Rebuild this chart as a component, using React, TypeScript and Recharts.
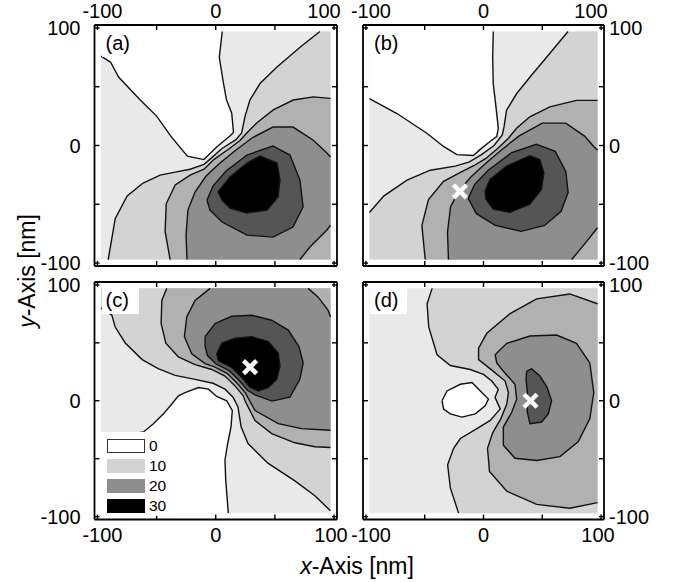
import React from "react";
import { ScatterChart, Scatter, XAxis, YAxis } from "recharts";

type Pt = [number, number];

const FONT = "'Liberation Sans', Arial, Helvetica, sans-serif";

// axis ticks shared by all panels (nm); only some of them carry a label
const ticks = [-100, -50, 0, 50, 100];
const labelledTicks = [-100, 0, 100];
const domain: [number, number] = [-102.5, 102.5];

// extent of the computed field (nm)
const fieldBox: Pt[] = [[-97, -97], [97, -97], [97, 97], [-97, 97]];

// legend
const legendLevels = ["0", "10", "20", "30"];

// grey level of each band (0-5, 5-10, ... 30+)
const shade = {
  l0: "#ffffff",
  l5: "#e9e9e9",
  l10: "#d3d3d3",
  l15: "#b1b1b1",
  l20: "#8e8e8e",
  l25: "#555555",
  l30: "#000000",
};

// ---- panel (a) contours
const aC5: Pt[] = [[-97, 76], [-89, 71], [-82, 58], [-64, 39], [-50, 25], [-38, 8], [-24, -9], [-10, -12], [1, -1], [12, 8], [15, 11], [13.5, 27.5], [9, 39], [6.5, 53], [3, 75], [5.5, 97]];
const aC5Edge: Pt[] = [[-97, 97]];
const aC10: Pt[] = [[88, 97], [71, 83.4], [51.5, 66.6], [37.4, 52.7], [28.9, 38.7], [24.7, 24.6], [21.9, 10.7], [17.1, 5], [5.3, -2.5], [-3.1, -10.1], [-9.9, -16], [-21.7, -20.2], [-34.3, -22.7], [-47, -25.2], [-61.4, -31.9], [-74.9, -42.9], [-85, -62.2], [-90.9, -97]];
const aC10Edge: Pt[] = [[97, -97], [97, 97]];
const aC15: Pt[] = [[97, 40.1], [82.4, 41.4], [65.5, 38.7], [48.6, 30.3], [34.6, 19.1], [26.2, 10.7], [20.5, 4.2], [10.4, -3.4], [-1.4, -11.8], [-9.9, -20.2], [-21.7, -25.2], [-34.3, -33.6], [-41.9, -49.6], [-42.8, -73.1], [-38.6, -97]];
const aC15Edge: Pt[] = [[97, -97]];
const aC20: Pt[] = [[-24.3, -97], [-25.1, -76.2], [-23.5, -54.9], [-17.5, -39.6], [-8.2, -26], [3.6, -14.9], [17.1, -3.8], [30.6, 6.4], [48.4, 15.7], [65.3, 15.7], [82.2, 4.7], [94, -6.4], [97, -9.8]];
const aC20b: Pt[] = [[97, -67.7], [94, -71.9], [79.6, -86.4], [71.2, -97]];
const aC25: Pt[] = [[-7.4, -46.4], [-2.3, -34.5], [8.7, -21.7], [26.4, -8.1], [48.4, -0.4], [62.7, -8.1], [71.2, -29.4], [73.8, -52.3], [65.3, -69.4], [48.4, -77.9], [26.4, -76.2], [5.3, -65.1], [-4.9, -54.9]];
const aC30: Pt[] = [[1.9, -39.6], [12, -26.8], [26.4, -14.9], [37.4, -8.9], [51.8, -14.9], [54.3, -29.4], [52.6, -43.8], [43.3, -54.9], [26.4, -57.4], [12, -53.2], [5.3, -46.4]];

// ---- panel (b) contours
const bC5: Pt[] = [[-97, 39.8], [-73.6, 27.2], [-48.2, 10.4], [-34, -0.8], [-22.7, -7.8], [-8.6, -8.5], [-3, -3.5], [5.5, 3.4], [11.2, 7.6], [12.6, 14.6], [10.6, 32.8], [8.3, 52.4], [7.8, 74.8], [8.3, 97]];
const bC5Edge: Pt[] = [[-97, 97]];
const bC10: Pt[] = [[71.9, 97], [53.5, 74.8], [39.4, 58], [28.1, 44], [19.6, 30], [17.5, 16], [16, 9], [9, 0], [-2, -8], [-12, -14], [-24, -17.5], [-45.3, -21], [-65.1, -29.5], [-84.9, -43], [-97, -57]];
const bC10Edge: Pt[] = [[-97, -97], [97, -97], [97, 97]];
const bC15: Pt[] = [[97, 38.4], [79, 38.4], [56.4, 32.8], [39.4, 24.4], [28.1, 14.6], [21, 6], [12, -2.5], [2, -11], [-8, -17], [-20, -23], [-34, -30.5], [-46.8, -46], [-52.4, -68], [-49.6, -97]];
const bC15Edge: Pt[] = [[97, -97]];
const bC20: Pt[] = [[-29.8, -97], [-30.6, -73.7], [-28, -52], [-21, -39], [-11, -27], [1, -16], [15, -4], [30, 8], [50, 19], [70, 19], [86, 8], [94, -1], [97, -4]];
const bC20b: Pt[] = [[97, -70], [85, -85], [75, -97]];
const bC25: Pt[] = [[-13, -45], [-7.5, -33], [4, -21], [24, -6], [45, 1], [61, -5], [70, -22], [72, -40], [66, -56], [52, -68], [32, -73], [10, -68], [-6, -58]];
const bC30: Pt[] = [[1.3, -38.7], [5.5, -28.9], [19.6, -17.6], [39.4, -8.7], [47.9, -12], [51.3, -23.2], [49.3, -37.3], [39.4, -49.9], [22.5, -56.9], [8.3, -54.1], [2.1, -45.7]];
const bMark: Pt[] = [[-20, -39]];

// ---- panel (c) contours
const cC5: Pt[] = [[-97, -33], [-61.1, -26.9], [-52.7, -19.8], [-44.2, -11.3], [-37.1, -2.8], [-31.6, 4.3], [-25.9, 7.1], [-14.7, 11.4], [-6.2, 10], [0.8, 3.7], [9.3, 0], [14, -8.5], [12.9, -22.6], [10.1, -36.9], [7.8, -51.1], [8.4, -68.1], [10.6, -97]];
const cC5Edge: Pt[] = [[-97, -97]];
const cC10: Pt[] = [[-97, 80], [-87.8, 73.8], [-85, 63.6], [-76.5, 49.9], [-62.2, 35.5], [-48.7, 27.8], [-34.3, 21.9], [-17.5, 18.5], [-2.3, 15.1], [7.8, 10], [14.6, 3.1], [18.8, -5.4], [21.4, -22.4], [27.3, -36.9], [44.1, -53.9], [66.9, -69.2], [83.8, -82], [97, -95]];
const cC10Edge: Pt[] = [[97, 97], [-97, 97]];
const cC15: Pt[] = [[-41.4, 97], [-45.6, 86.6], [-46.2, 66.7], [-42.2, 49.7], [-31.6, 37.8], [-17.5, 31.2], [-3.4, 27], [7.8, 21.3], [16.3, 12.8], [23.3, 4.3], [24.7, 0], [33.2, -17], [47.3, -28.3], [66.9, -36.3], [83.8, -39.7], [97, -40.3]];
const cC15Edge: Pt[] = [[97, 97]];
const cC20: Pt[] = [[-4.8, 97], [-17.5, 86.6], [-24.5, 72.3], [-26.5, 55.3], [-20.3, 40.6], [-9, 32], [-1.6, 29.4], [9.6, 23.7], [18.1, 15.1], [25.1, 6.6], [33.2, -8.5], [52.8, -19.8], [72.6, -24.1], [97, -25.5]];
const cC20b: Pt[] = [[97, 72.3], [95, 78], [86.6, 89.4], [78.1, 97]];
const cC25: Pt[] = [[-9, 55.3], [-0.6, 66.7], [13.5, 72.9], [30.4, 73.8], [47.3, 69.5], [61.3, 61], [70.3, 46.8], [73.9, 32.7], [71.1, 18.5], [62.7, 3.1], [47.5, -0.3], [33.2, 5], [26.8, 9], [19.8, 17.5], [11.4, 26], [0.2, 31.7], [-7, 39], [-9, 47]];
const cC30: Pt[] = [[0.8, 40.6], [5.1, 49.7], [16.3, 54], [30.4, 55.3], [44.4, 51.1], [52.8, 41.2], [54.3, 29.8], [51.5, 18.5], [44.4, 11.4], [35.9, 8.5], [28.9, 11.7], [21.9, 20.3], [13.4, 28.8], [2.2, 34.5]];
const cMark: Pt[] = [[29, 29]];

// ---- panel (d) contours
const dC5: Pt[] = [[-35.3, 0], [-31, 8.5], [-19.7, 14.2], [-9.8, 15.7], [-1.4, 7.1], [4.2, 1.4], [1.4, -4.3], [-7, -11.3], [-18.3, -14.1], [-28.2, -11.3], [-33.9, -7.1]];
const dC10: Pt[] = [[-43.7, 97], [-48, 83.7], [-46.6, 63.8], [-39.5, 39.7], [-28.2, 30.4], [-11.3, 27], [0, 22.7], [7, 17], [12.6, 9.9], [9.8, 2.9], [14.2, -7.1], [5.7, -17], [-5.6, -24.1], [-19.7, -32.6], [-25.4, -41.1], [-30.5, -55.3], [-28.2, -75.2], [-21.2, -97]];
const dC10Edge: Pt[] = [[97, -97], [97, 97]];
const dC15: Pt[] = [[97, 83.7], [73.4, 92.2], [45.2, 87.9], [22.6, 75.2], [2.8, 58.2], [-4.2, 45.4], [-4.2, 35.5], [7.1, 26.4], [18.4, 17], [21.2, 7.1], [19.8, -2.8], [14.7, -15.6], [7.9, -27.5], [3.4, -41.1], [5.1, -61], [19.8, -78], [45.2, -89.4], [73.4, -92.8], [97, -87.9]];
const dC20: Pt[] = [[9.9, 39.7], [19.8, 49.6], [39.5, 55.9], [62.1, 56.7], [79.1, 49.6], [90.4, 32.6], [93.8, 7.1], [90.4, -15.6], [80.5, -35.5], [65, -48.2], [45.2, -51.6], [26.8, -49.6], [16.9, -38.3], [16.9, -22.7], [24, -9.9], [28.2, 1.4], [26.8, 14.2], [16.9, 25.5], [11.3, 32.6]];
const dC25: Pt[] = [[36.7, 25.5], [41, 27.5], [48, 21.3], [54.2, 11.3], [57.9, 0], [55.1, -11.3], [49.4, -18.4], [39.5, -19.9], [37.3, -9.9], [37.3, 7.1], [36.2, 18.4]];
const dMark: Pt[] = [[40, 0]];

interface Region {
  pts: Pt[];
  color: string;
}

interface Box {
  left: number;
  top: number;
  right: number;
  bottom: number;
}

interface PanelProps {
  box: Box;
  fills: Region[];
  lines: Pt[][];
  marks?: Pt[];
  top?: boolean;
  bottom?: boolean;
  left?: boolean;
  right?: boolean;
}

const toXY = (pts: Pt[]) => pts.map(([x, y]) => ({ x, y }));
const ring = (pts: Pt[]) => [...pts, pts[0]];

const noShape = () => <g />;
const noTick = () => <g />;

const Cross = (p: any) => {
  const { cx, cy } = p;
  const r = 6.5;
  return (
    <g>
      <line x1={cx - r} y1={cy - r} x2={cx + r} y2={cy + r} stroke="#fff" strokeWidth={4.5} />
      <line x1={cx - r} y1={cy + r} x2={cx + r} y2={cy - r} stroke="#fff" strokeWidth={4.5} />
    </g>
  );
};

const makeTick = (side: "top" | "bottom" | "left" | "right") => (p: any) => {
  const v = p.payload.value;
  if (!labelledTicks.includes(v)) return <g />;
  if (side === "top" || side === "bottom") {
    let dx = 0;
    if (v === -100) dx = 5;
    if (v === 100) dx = side === "top" ? -10 : -3;
    return (
      <text x={p.x + dx} y={p.y} dy={side === "bottom" ? "0.71em" : 0} textAnchor="middle" fontSize={20} fontFamily={FONT} fill="#000">
        {String(v)}
      </text>
    );
  }
  return (
    <text x={p.x} y={p.y} dy="0.36em" textAnchor={side === "left" ? "end" : "start"} fontSize={20} fontFamily={FONT} fill="#000">
      {String(v)}
    </text>
  );
};

const axisLine = { stroke: "#000", strokeWidth: 1.8 };
const tickLine = { stroke: "#000", strokeWidth: 1.4 };

// axes are 1px thick so that they are drawn; the margins make up for it
const AX = 1;

function Panel({ box, fills, lines, marks, top, bottom, left, right }: PanelProps) {
  return (
    <div style={{ position: "absolute", left: 0, top: 0 }}>
      <ScatterChart
        width={678}
        height={582}
        margin={{ top: box.top - AX, left: box.left - AX, right: 678 - box.right - AX, bottom: 582 - box.bottom - AX }}
      >
        <XAxis xAxisId="b" dataKey="x" type="number" domain={domain} ticks={ticks} interval={0} allowDataOverflow orientation="bottom" height={AX} tickSize={-5} tickMargin={13.5} axisLine={axisLine} tickLine={tickLine} tick={bottom ? makeTick("bottom") : noTick} />
        <XAxis xAxisId="t" dataKey="x" type="number" domain={domain} ticks={ticks} interval={0} allowDataOverflow orientation="top" height={AX} tickSize={-5} tickMargin={12} axisLine={axisLine} tickLine={tickLine} tick={top ? makeTick("top") : noTick} />
        <YAxis yAxisId="l" dataKey="y" type="number" domain={domain} ticks={ticks} interval={0} allowDataOverflow orientation="left" width={AX} tickSize={-5} tickMargin={19} axisLine={axisLine} tickLine={tickLine} tick={left ? makeTick("left") : noTick} />
        <YAxis yAxisId="r" dataKey="y" type="number" domain={domain} ticks={ticks} interval={0} allowDataOverflow orientation="right" width={AX} tickSize={-5} tickMargin={10} axisLine={axisLine} tickLine={tickLine} tick={right ? makeTick("right") : noTick} />
        {fills.map((f, i) => (
          <Scatter
            key={"f" + i}
            xAxisId="b"
            yAxisId="l"
            data={toXY(f.pts)}
            line={{ fill: f.color, stroke: "none" }}
            shape={noShape}
            isAnimationActive={false}
          />
        ))}
        {lines.map((l, i) => (
          <Scatter
            key={"l" + i}
            xAxisId="b"
            yAxisId="l"
            data={toXY(l)}
            line={{ fill: "none", stroke: "#111", strokeWidth: 1.4 }}
            shape={noShape}
            isAnimationActive={false}
          />
        ))}
        {marks && (
          <Scatter xAxisId="b" yAxisId="l" data={toXY(marks)} shape={Cross} isAnimationActive={false} />
        )}
      </ScatterChart>
    </div>
  );
}

const boxA: Box = { left: 94.5, top: 25, right: 337, bottom: 266 };
const boxB: Box = { left: 363, top: 25, right: 604, bottom: 266 };
const boxC: Box = { left: 94.5, top: 282, right: 337, bottom: 519.5 };
const boxD: Box = { left: 363, top: 282, right: 604, bottom: 519.5 };

function Tag({ box, text }: { box: Box; text: string }) {
  return (
    <div
      style={{
        position: "absolute",
        left: box.left + 7,
        top: box.top + 4,
        width: 37,
        height: 28,
        background: "#fff",
        fontFamily: FONT,
        fontSize: 20,
        lineHeight: "28px",
        paddingLeft: 4,
        boxSizing: "border-box",
        color: "#000",
      }}
    >
      {text}
    </div>
  );
}

const legendColors = [shade.l0, shade.l10, shade.l20, shade.l30];

export default function App() {
  return (
    <div style={{ position: "absolute", left: 0, top: 0, width: 678, height: 582, background: "#fff", overflow: "hidden" }}>
      <Panel
        box={boxA}
        top
        left
        fills={[
          { pts: fieldBox, color: shade.l5 },
          { pts: [...aC10, ...aC10Edge], color: shade.l10 },
          { pts: [...aC15, ...aC15Edge], color: shade.l15 },
          { pts: [...aC20, ...aC20b], color: shade.l20 },
          { pts: aC25, color: shade.l25 },
          { pts: aC30, color: shade.l30 },
          { pts: [...aC5, ...aC5Edge], color: shade.l0 },
        ]}
        lines={[aC5, aC10, aC15, aC20, aC20b, ring(aC25), ring(aC30)]}
      />
      <Panel
        box={boxB}
        top
        right
        fills={[
          { pts: fieldBox, color: shade.l5 },
          { pts: [...bC10, ...bC10Edge], color: shade.l10 },
          { pts: [...bC15, ...bC15Edge], color: shade.l15 },
          { pts: [...bC20, ...bC20b], color: shade.l20 },
          { pts: bC25, color: shade.l25 },
          { pts: bC30, color: shade.l30 },
          { pts: [...bC5, ...bC5Edge], color: shade.l0 },
        ]}
        lines={[bC5, bC10, bC15, bC20, bC20b, ring(bC25), ring(bC30)]}
        marks={bMark}
      />
      <Panel
        box={boxC}
        bottom
        left
        fills={[
          { pts: fieldBox, color: shade.l5 },
          { pts: [...cC10, ...cC10Edge], color: shade.l10 },
          { pts: [...cC15, ...cC15Edge], color: shade.l15 },
          { pts: [...cC20, ...cC20b], color: shade.l20 },
          { pts: cC25, color: shade.l25 },
          { pts: cC30, color: shade.l30 },
          { pts: [...cC5, ...cC5Edge], color: shade.l0 },
        ]}
        lines={[cC5, cC10, cC15, cC20, cC20b, ring(cC25), ring(cC30)]}
        marks={cMark}
      />
      <Panel
        box={boxD}
        bottom
        right
        fills={[
          { pts: fieldBox, color: shade.l5 },
          { pts: [...dC10, ...dC10Edge], color: shade.l10 },
          { pts: dC15, color: shade.l15 },
          { pts: dC20, color: shade.l20 },
          { pts: dC25, color: shade.l25 },
          { pts: dC5, color: shade.l0 },
        ]}
        lines={[ring(dC5), dC10, dC15, ring(dC20), ring(dC25)]}
        marks={dMark}
      />

      <Tag box={boxA} text="(a)" />
      <Tag box={boxB} text="(b)" />
      <Tag box={boxC} text="(c)" />
      <Tag box={boxD} text="(d)" />

      {/* legend inside panel (c) */}
      <div style={{ position: "absolute", left: 101, top: 431.5, width: 70, height: 84, background: "#fff" }}>
        {legendLevels.map((lv, i) => (
          <div key={lv} style={{ position: "absolute", left: 5.5, top: 7 + i * 20, height: 14.5, display: "flex", alignItems: "center" }}>
            <div
              style={{
                width: 38,
                height: 14.5,
                boxSizing: "border-box",
                background: legendColors[i],
                border: i === 0 ? "1.5px solid #333" : "none",
              }}
            />
            <span style={{ marginLeft: 4.5, fontFamily: FONT, fontSize: 15.5, color: "#000", lineHeight: "14.5px" }}>{lv}</span>
          </div>
        ))}
      </div>

      <div
        style={{
          position: "absolute",
          left: 257,
          top: 555,
          width: 200,
          textAlign: "center",
          fontFamily: FONT,
          fontSize: 23,
          lineHeight: "23px",
          color: "#000",
          whiteSpace: "nowrap",
        }}
      >
        <i>x</i>-Axis [nm]
      </div>
      <div
        style={{
          position: "absolute",
          left: 27,
          top: 271,
          transform: "translate(-50%, -50%) rotate(-90deg)",
          fontFamily: FONT,
          fontSize: 23,
          lineHeight: "23px",
          color: "#000",
          whiteSpace: "nowrap",
        }}
      >
        <i>y</i>-Axis [nm]
      </div>
    </div>
  );
}
